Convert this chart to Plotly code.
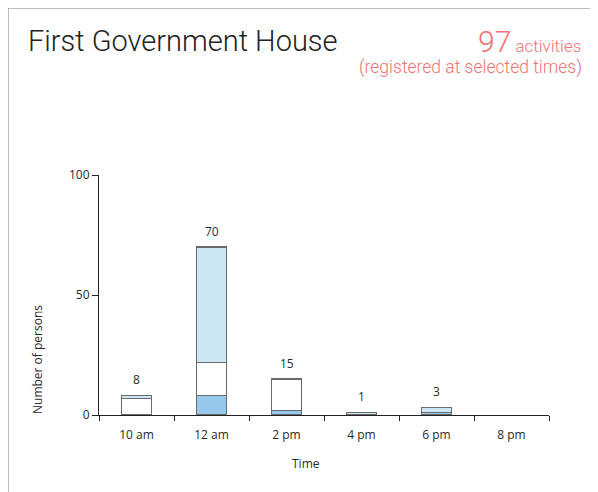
import plotly.graph_objects as go

categories = ["10 am", "12 am", "2 pm", "4 pm", "6 pm", "8 pm"]
dark_blue = [0, 8, 2, 0, 1, 0]
white = [7, 14, 13, 0, 0, 0]
light_blue = [1, 48, 0, 1, 2, 0]
totals = [8, 70, 15, 1, 3, None]
y_ticks = [0, 50, 100]

OFF = 8  # page body margin
L, R, T, B = 99 - OFF, 49 + OFF, 175 - OFF, 77 + OFF
FW, FH = 598, 492
W = FW - L - R
H = FH - T - B

def px(x):
    return (x - OFF - L) / W

def py(y):
    return (FH - B - (y - OFF)) / H

def nz(v):
    return [val if val else None for val in v]

fig = go.Figure()
for vals, col in [(dark_blue, "#95c9ee"), (white, "#ffffff"), (light_blue, "#cde8f5")]:
    fig.add_trace(go.Bar(
        x=categories, y=nz(vals), marker=dict(color=col, line=dict(color="#6a6a6a", width=1.2)),
        width=0.4, showlegend=False, hoverinfo="skip"))

font_small = dict(family="Open Sans", size=12, color="#2a2a2a")

for c, t in zip(categories, totals):
    if t:
        fig.add_annotation(x=c, y=t, text=str(t), showarrow=False, yshift=16, font=font_small)

fig.update_layout(
    width=FW, height=FH, barmode="stack", bargap=0.6,
    margin=dict(l=L, r=R, t=T, b=B),
    paper_bgcolor="white", plot_bgcolor="white",
    xaxis=dict(type="category", range=[-0.5, 5.5], tickson="boundaries", ticks="outside",
               ticklen=5, tickcolor="#222", showline=True, linecolor="#222", linewidth=1,
               showgrid=False, tickfont=font_small, ticklabelstandoff=9, fixedrange=True),
    yaxis=dict(range=[0, 100], tickvals=y_ticks, ticks="outside", ticklen=6, tickcolor="#222",
               showline=True, linecolor="#222", linewidth=1, showgrid=False, zeroline=False,
               tickfont=font_small, fixedrange=True),
    font=font_small,
)

# outer frame
fig.add_shape(type="line", xref="paper", yref="paper", x0=px(7.5), x1=px(7.5), y0=py(7.5), y1=py(530),
              line=dict(color="#7a7a7a", width=2))
fig.add_shape(type="line", xref="paper", yref="paper", x0=px(7.5), x1=px(640), y0=py(7.5), y1=py(7.5),
              line=dict(color="#7a7a7a", width=2))

# title
fig.add_annotation(xref="paper", yref="paper", x=px(26), y=py(41), xanchor="left", yanchor="middle",
                   text="First Government House", showarrow=False,
                   font=dict(family="Roboto", size=29, weight=300, color="#222"))
fig.add_annotation(xref="paper", yref="paper", x=px(583), y=py(61), xanchor="right", yanchor="bottom",
                   text="<span style='font-size:30px'>97</span> activities", showarrow=False,
                   font=dict(family="Roboto", size=17, weight=300, color="#f07272"))
fig.add_annotation(xref="paper", yref="paper", x=px(584), y=py(67), xanchor="right", yanchor="middle",
                   text="(registered at selected times)", showarrow=False,
                   font=dict(family="Roboto", size=17.5, weight=300, color="#f07272"))

# axis titles
fig.add_annotation(xref="paper", yref="paper", x=px(37), y=py(360), xanchor="center", yanchor="middle",
                   textangle=-90, text="Number of persons", showarrow=False, font=font_small)
fig.add_annotation(xref="paper", yref="paper", x=px(306), y=py(463), xanchor="center", yanchor="middle",
                   text="Time", showarrow=False, font=font_small)

fig.write_html("out.html")
